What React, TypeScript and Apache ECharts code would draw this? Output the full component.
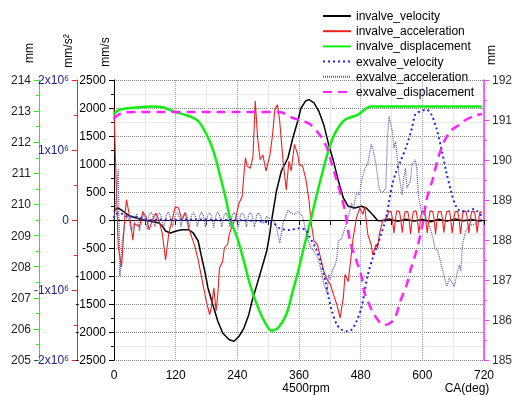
import React, { useEffect, useRef } from 'react';
import * as echarts from 'echarts';

// Crank angle ticks (deg)
const xTickLabels = [0, 120, 240, 360, 480, 600, 720];

// invalve velocity [deg, mm/s]
const invalveVelocity: number[][] = [
  [0, 150], [1.9, 184], [8.2, 214], [17.1, 161], [30.5, 71], [42, 40], [55.2, 5], [70, -20], [87.6, -54],
  [95, -120], [100.4, -196], [109.9, -232], [119.4, -202], [131.4, -173], [144.8, -173], [154.3, -232],
  [163.8, -375], [169.5, -620], [176.6, -911], [182.9, -1214], [192.4, -1513], [201.9, -1804], [211.5, -2018],
  [224.2, -2138], [233.7, -2166], [243.3, -2077], [252.8, -1929], [262.3, -1691], [268.6, -1447], [278.1, -1156],
  [287.7, -857], [297.2, -554], [302.9, -263], [306.7, -9], [316.2, 518], [325.7, 875], [338.5, 1107],
  [348, 1464], [357.6, 1768], [363.9, 2000], [373.4, 2131], [379.7, 2149], [389.2, 2090], [398.7, 1941],
  [408.2, 1702], [417.8, 1345], [427.3, 1048], [436.8, 691], [446.3, 393], [455.9, 245], [468.6, 214],
  [481.4, 245], [490.9, 214], [503.5, 95], [513, -9], [520, -15], [536, 20], [552, -25], [568, 15], [584, -20],
  [600, 10], [616, -30], [632, 15], [648, -20], [664, 20], [680, -15], [696, 10], [712, -20], [716, 0],
];

// invalve acceleration [deg, 10^6 mm/s^2]
const invalveAcceleration: number[][] = [
  [0, 1.6], [2, 1.1], [4, 0.6], [8.2, -0.38], [14.7, -0.67], [21, 0.05], [24.2, 0.29], [30.5, 0.05],
  [36.8, -0.29], [40, -0.05], [49.5, -0.1], [55.8, 0.12], [62.3, 0.05], [68.6, -0.14], [74.9, 0], [81.3, 0.1],
  [87.6, 0], [93.9, -0.19], [100.4, -0.57], [106.7, -0.19], [113, 0], [119.4, 0.19], [125.7, 0.17], [132, 0],
  [138.5, 0.1], [144.8, -0.1], [151.1, -0.24], [157.5, -0.38], [163.8, -0.57], [170.1, -0.81], [176.6, -1.05],
  [179.6, -1.16], [186.1, -1.35], [189.2, -1.26], [194.3, -0.97], [198.7, -1.3], [201.9, -1.07], [205.2, -0.69],
  [211.5, -0.59], [214.7, -0.4], [221, -0.35], [224.2, -0.21], [230.5, -0.07], [236.8, 0.03], [243.3, 0.24],
  [249.6, 0.34], [252.8, 0.65], [255.8, 0.89], [259.1, 0.77], [265.4, 0.74], [270.5, 0.91], [274.9, 1.7],
  [279.5, 1.17], [284.4, 0.86], [289.6, 0.93], [295.9, 0.7], [303.5, 0.93], [308.6, 1.22], [313, 1.58],
  [318.1, 1.65], [322.5, 1.41], [329, 0.84], [335.3, 0.43], [340.4, 0.84], [344.8, 0.7], [351.1, 1.08],
  [357.6, 0.93], [360.6, 0.79], [367.1, 0.77], [373.4, 0.58], [379.7, 0.27], [383, -0.01], [389.2, -0.3],
  [395.7, -0.35], [402, -0.54], [408.2, -0.73], [414.7, -0.85], [421, -0.92], [427.3, -1.07], [433.8, -1.21],
  [440, -1.4], [446.3, -1.11], [449.6, -0.78], [455.9, -0.88], [462.4, -0.45], [465.4, -0.26], [471.9, 0.03],
  [478.2, 0.17], [484.5, 0.08], [487.7, 0.2], [494, -0.21], [500.4, -0.35], [503.5, -0.5], [510, -0.35],
  [513, -0.4], [516.3, -0.21], [522.6, -0.02],
  [532.2, 0.05], [534.2, 0.12], [539.2, 0.12], [541.2, 0.05], [544.8, -0.19],
  [548.4, 0.05], [550.4, 0.13], [555.4, 0.12], [557.4, 0.04], [561, -0.18],
  [564.6, 0.05], [566.6, 0.12], [571.6, 0.12], [573.6, 0.05], [577.2, -0.2],
  [580.8, 0.05], [582.8, 0.12], [587.8, 0.13], [589.8, 0.05], [593.4, -0.19],
  [597, 0.05], [599, 0.12], [604, 0.12], [606, 0.04], [609.6, -0.19],
  [613.2, 0.05], [615.2, 0.13], [620.2, 0.12], [622.2, 0.05], [625.8, -0.2],
  [629.4, 0.05], [631.4, 0.12], [636.4, 0.12], [638.4, 0.05], [642, -0.18],
  [645.6, 0.05], [647.6, 0.12], [652.6, 0.13], [654.6, 0.05], [658.2, -0.19],
  [661.8, 0.04], [663.8, 0.12], [668.8, 0.12], [670.8, 0.05], [674.4, -0.2],
  [678, 0.05], [680, 0.13], [685, 0.12], [687, 0.05], [690.6, -0.19],
  [694.2, 0.05], [696.2, 0.12], [701.2, 0.12], [703.2, 0.05], [706.8, -0.18],
  [710.4, 0.05], [712.4, 0.12], [716, 0.1],
];

// invalve displacement [deg, mm]
const invalveDisplacement: number[][] = [
  [0, 212.88], [1.9, 212.94], [11.4, 213.05], [30.5, 213.1], [55.2, 213.13], [74.3, 213.15], [93.3, 213.13],
  [106.7, 213.05], [119.4, 212.97], [138.5, 212.88], [157.5, 212.76], [167.1, 212.62], [176.6, 212.36],
  [186.1, 212.04], [195.7, 211.6], [207.6, 210.85], [217.2, 210.21], [226.7, 209.5], [240, 208.92],
  [252.8, 208.18], [264.8, 207.42], [278.1, 206.78], [290.9, 206.3], [306.7, 205.94], [319.5, 206.03],
  [335.3, 206.46], [348, 207.22], [357.6, 207.8], [370, 208.65], [382.9, 209.51], [402, 210.8], [417.2, 211.72],
  [430.5, 212.3], [449.6, 212.72], [474.3, 212.88], [500.4, 213.15], [600, 213.15], [716, 213.15],
];

// exvalve velocity [deg, mm/s]
const exvalveVelocity: number[][] = [
  [0, 36], [1.9, 95], [11.4, 125], [24.2, 66], [43.2, 59], [68.6, 0], [90, 10], [119.4, 0], [160, 8],
  [221, 0], [278, -18], [310, -59], [322.5, -148], [341.6, -179], [360.6, -148], [373.4, -179], [379.7, -291],
  [392.4, -500], [402, -738], [411.5, -1095], [417.8, -1393], [424.2, -1631], [433.8, -1870], [443.3, -1959],
  [452.8, -1988], [462.4, -1959], [471.9, -1809], [481.4, -1571], [487.7, -1273], [494, -976], [503.5, -679],
  [513, -441], [519.5, -262], [525.8, -84], [532.1, 155], [535.3, 334], [541.6, 630], [548.1, 839],
  [557.6, 1048], [570.2, 1345], [579.8, 1643], [586.2, 1881], [595.7, 1941], [608.3, 1970], [617.8, 1881],
  [627.3, 1643], [636.8, 1286], [646.4, 870], [655.9, 513], [665.4, 245], [675, 155], [687.7, 155],
  [700.5, 196], [706.8, 155], [716, 71],
];

// exvalve acceleration [deg, 10^6 mm/s^2]
const exvalveAcceleration: number[][] = [
  [0, 0], [4, 0.3], [8.2, 0.72], [11.4, -0.8], [16, -0.3], [21, -0.07], [26.7, 0.07], [33.7, -0.16], [40, -0.02],
  [44.8, 0.09], [49.5, -0.16], [57.2, 0.09], [65.3, -0.14],
  [68.3, 0.07], [71.8, 0.11], [75.3, 0.07], [79.7, -0.1],
  [84.1, 0.07], [87.6, 0.1], [91.1, 0.07], [96.5, -0.11],
  [101.9, 0.07], [105.4, 0.11], [108.9, 0.06], [114, -0.1],
  [119.1, 0.07], [122.6, 0.1], [126.1, 0.07], [130.5, -0.1],
  [135, 0.07], [138.5, 0.11], [142, 0.07], [146.4, -0.11],
  [150.8, 0.07], [154.3, 0.1], [157.8, 0.07], [162.2, -0.1],
  [166.6, 0.06], [170.1, 0.11], [173.6, 0.07], [178.1, -0.1],
  [182.6, 0.07], [186.1, 0.1], [189.6, 0.07], [194, -0.11],
  [198.4, 0.07], [201.9, 0.11], [205.4, 0.07], [209.8, -0.1],
  [214.3, 0.07], [217.8, 0.1], [221.3, 0.06], [225.7, -0.1],
  [230.2, 0.07], [233.7, 0.11], [237.2, 0.07], [241.6, -0.11],
  [246.1, 0.07], [249.6, 0.1], [253.1, 0.07], [257.5, -0.1],
  [261.9, 0.07], [265.4, 0.11], [268.9, 0.07], [273.4, -0.1],
  [277.9, 0.07], [281.4, 0.1], [284.9, 0.06],
  [290, -0.05], [297, 0.05], [303, 0.02], [310, 0], [316, -0.1], [322.5, -0.33], [329, -0.05], [338.5, 0.14],
  [344.8, 0.1], [351, 0.08], [357.6, 0.12], [367, 0.05], [376.6, -0.26], [383, -0.4], [389.2, -0.45],
  [395.7, -0.52], [402, -0.69], [408.2, -0.92], [414.7, -1.04], [417.8, -0.78], [421, -0.85], [424.2, -0.73],
  [430.5, -0.64], [433.8, -0.54], [436.8, -0.3], [443.3, -0.26], [449.6, -0.11], [455.9, 0.03], [462.4, 0.24],
  [465.4, 0.15], [471.9, 0.39], [478.2, 0.36], [481.4, 0.55], [487.7, 0.72], [494, 0.81], [500.4, 1.08],
  [503.5, 1.03], [510, 0.79], [516.3, 0.43], [522.6, 0.39], [529, 0.46], [532.1, 1.17], [535.3, 1.48],
  [541.6, 1.27], [544.8, 1.03], [548.1, 1.12], [554.4, 0.65], [560.6, 0.36], [563.9, 0.6], [567.1, 0.74],
  [570.2, 0.46], [576.6, 0.55], [579.8, 0.79], [586.2, 0.86], [589.2, 0.74], [592.5, 0.34], [595.7, 0.22],
  [598.7, 0.12], [605.2, 0.08], [608.3, 0], [614.7, -0.11], [621, -0.26], [624.1, -0.4], [630.6, -0.45],
  [636.8, -0.64], [643.3, -0.83], [647.7, -0.95], [652.8, -0.83], [657.8, -0.9], [662.4, -0.95], [668.7, -0.73],
  [671.9, -0.64], [675, -0.73], [678.2, -0.35], [684.5, -0.16], [691, -0.07], [700.5, -0.07], [706.8, -0.04],
  [712.5, 0.03], [716, -0.03],
];

// exvalve displacement [deg, mm]
const exvalveDisplacement: number[][] = [
  [0, 191.02], [1.9, 191.07], [17.1, 191.18], [43.2, 191.2], [200, 191.2], [322, 191.2], [348, 191.05],
  [367.1, 190.98], [382.9, 190.88], [402, 190.6], [414.7, 190.3], [424.2, 189.88], [433.8, 189.48],
  [443.3, 189.05], [449.6, 188.73], [459.1, 187.98], [471.9, 187.48], [481.4, 187.1], [487.7, 186.68],
  [506.7, 186.13], [525.8, 185.87], [544.8, 186.01], [557.6, 186.48], [569.6, 186.88], [576.6, 187.23],
  [588.6, 187.73], [602, 188.48], [607.7, 188.98], [621, 189.55], [630.6, 190.05], [643.3, 190.48],
  [655.3, 190.73], [671.9, 190.88], [681.4, 190.98], [700.5, 191.1], [716, 191.15],
];

const MEGA = 1e6;
const FONT = '"Liberation Sans", Arial, sans-serif';

export default function App() {
  const ref = useRef<HTMLDivElement>(null);
  useEffect(() => {
    const chart = echarts.init(ref.current!, null, { renderer: 'svg' });
    const toMega = (arr: number[][]) => arr.map(([x, y]) => [x, y * MEGA]);
    const accelFmt = (v: number) => {
      const m = Math.round(v / MEGA);
      return m === 0 ? '0' : `${m}x10\u2076`;
    };
    const plain = (v: number) => String(v);
    chart.setOption({
      animation: false,
      textStyle: { fontFamily: FONT },
      grid: { left: 114, right: 23, top: 80, bottom: 36, containLabel: false },
      legend: {
        orient: 'vertical',
        left: 322,
        top: 10,
        padding: 0,
        itemWidth: 28,
        itemHeight: 12,
        itemGap: 3.2,
        itemStyle: { opacity: 0 },
        textStyle: { fontSize: 12, color: '#000', fontFamily: FONT },
        data: ['invalve_velocity', 'invalve_acceleration', 'invalve_displacement', 'exvalve_velocity', 'exvalve_acceleration', 'exvalve_displacement'],
      },
      xAxis: {
        type: 'value',
        min: 0,
        max: 720,
        interval: 120,
        axisLine: { show: true, lineStyle: { color: '#000', width: 1 } },
        axisTick: { show: true, inside: false, length: 5, lineStyle: { color: '#000' } },
        minorTick: { show: true, splitNumber: 2, length: 5, lineStyle: { color: '#000' } },
        axisLabel: {
          color: '#000', fontSize: 12, fontFamily: FONT, margin: 9,
          formatter: (v: number) => (xTickLabels.includes(v) ? String(v) : ''),
        },
        splitLine: { show: true, lineStyle: { color: '#9a9ae6', type: 'dotted', width: 1 } },
        minorSplitLine: { show: true, lineStyle: { color: '#e6e6e6', width: 1 } },
      },
      yAxis: [
        {
          type: 'value', position: 'left', offset: 0, min: -2500, max: 2500, interval: 500,
          axisLine: { show: true, onZero: false, lineStyle: { color: '#000', width: 1 } },
          axisTick: { show: true, length: 5, lineStyle: { color: '#000' } },
          minorTick: { show: true, splitNumber: 2, length: 3, lineStyle: { color: '#000' } },
          axisLabel: { color: '#000', fontSize: 12, fontFamily: FONT, margin: 8, formatter: plain },
          splitLine: { show: true, lineStyle: { color: '#808080', type: 'dotted', width: 1 } },
          minorSplitLine: { show: true, lineStyle: { color: '#ebebeb', width: 1 } },
        },
        {
          type: 'value', position: 'left', offset: 37, min: -2 * MEGA, max: 2 * MEGA, interval: MEGA,
          axisLine: { show: true, onZero: false, lineStyle: { color: '#ff2020', width: 1 } },
          axisTick: { show: true, length: 5, lineStyle: { color: '#ff2020' } },
          minorTick: { show: true, splitNumber: 2, length: 3, lineStyle: { color: '#ff2020' } },
          axisLabel: { color: '#20208a', fontSize: 12, fontFamily: FONT, margin: 8, formatter: accelFmt },
          splitLine: { show: false },
        },
        {
          type: 'value', position: 'left', offset: 75, min: 205, max: 214, interval: 1,
          axisLine: { show: true, onZero: false, lineStyle: { color: '#22ee22', width: 1 } },
          axisTick: { show: true, length: 5, lineStyle: { color: '#22ee22' } },
          minorTick: { show: true, splitNumber: 2, length: 3, lineStyle: { color: '#22ee22' } },
          axisLabel: { color: '#222', fontSize: 12, fontFamily: FONT, margin: 8, formatter: plain },
          splitLine: { show: false },
        },
        {
          type: 'value', position: 'right', offset: 0, min: 185, max: 192, interval: 1,
          axisLine: { show: true, onZero: false, lineStyle: { color: '#ff33ff', width: 1.5 } },
          axisTick: { show: true, length: 5, lineStyle: { color: '#ff33ff' } },
          minorTick: { show: true, splitNumber: 2, length: 3, lineStyle: { color: '#ff33ff' } },
          axisLabel: { color: '#333', fontSize: 12, fontFamily: FONT, margin: 8, formatter: plain },
          splitLine: { show: false },
        },
      ],
      graphic: [
        { type: 'text', x: 29, y: 53, rotation: Math.PI / 2, style: { text: 'mm', fontSize: 12, fontFamily: FONT, fill: '#000', align: 'center', verticalAlign: 'middle' } },
        { type: 'text', x: 68, y: 51, rotation: Math.PI / 2, style: { text: 'mm/s\u00b2', fontSize: 12, fontFamily: FONT, fill: '#000', align: 'center', verticalAlign: 'middle' } },
        { type: 'text', x: 105, y: 52, rotation: Math.PI / 2, style: { text: 'mm/s', fontSize: 12, fontFamily: FONT, fill: '#000', align: 'center', verticalAlign: 'middle' } },
        { type: 'text', x: 491, y: 55, rotation: Math.PI / 2, style: { text: 'mm', fontSize: 12, fontFamily: FONT, fill: '#000', align: 'center', verticalAlign: 'middle' } },
        { type: 'text', x: 306, y: 388, style: { text: '4500rpm', fontSize: 12, fontFamily: FONT, fill: '#000', align: 'center', verticalAlign: 'middle' } },
        { type: 'text', x: 467, y: 388, style: { text: 'CA(deg)', fontSize: 12, fontFamily: FONT, fill: '#000', align: 'center', verticalAlign: 'middle' } },
      ],
      series: [
        {
          name: 'invalve_velocity', type: 'line', yAxisIndex: 0, data: invalveVelocity, showSymbol: false, symbol: 'none',
          lineStyle: { color: '#000', width: 1.5 }, itemStyle: { color: '#000' },
        },
        {
          name: 'invalve_acceleration', type: 'line', yAxisIndex: 1, data: toMega(invalveAcceleration), showSymbol: false, symbol: 'none',
          lineStyle: { color: '#f02020', width: 1.1 }, itemStyle: { color: '#f02020' },
        },
        {
          name: 'invalve_displacement', type: 'line', yAxisIndex: 2, data: invalveDisplacement, showSymbol: false, symbol: 'none', smooth: 0.3,
          lineStyle: { color: '#11ee11', width: 2.5 }, itemStyle: { color: '#11ee11' },
        },
        {
          name: 'exvalve_velocity', type: 'line', yAxisIndex: 0, data: exvalveVelocity, showSymbol: false, symbol: 'none', smooth: 0.3,
          lineStyle: { color: '#2222ee', width: 2, type: [2, 3] }, itemStyle: { color: '#2222ee' },
        },
        {
          name: 'exvalve_acceleration', type: 'line', yAxisIndex: 1, data: toMega(exvalveAcceleration), showSymbol: false, symbol: 'none',
          lineStyle: { color: '#5a5aa0', width: 1.2, type: [1, 1] }, itemStyle: { color: '#5a5aa0' },
        },
        {
          name: 'exvalve_displacement', type: 'line', yAxisIndex: 3, data: exvalveDisplacement, showSymbol: false, symbol: 'none', smooth: 0.3,
          lineStyle: { color: '#ff22ff', width: 2.5, type: [9, 6] }, itemStyle: { color: '#ff22ff' },
        },
      ],
    });
    return () => chart.dispose();
  }, []);
  return <div ref={ref} style={{ position: 'fixed', left: 0, top: 0, width: 515, height: 396 }} />;
}
